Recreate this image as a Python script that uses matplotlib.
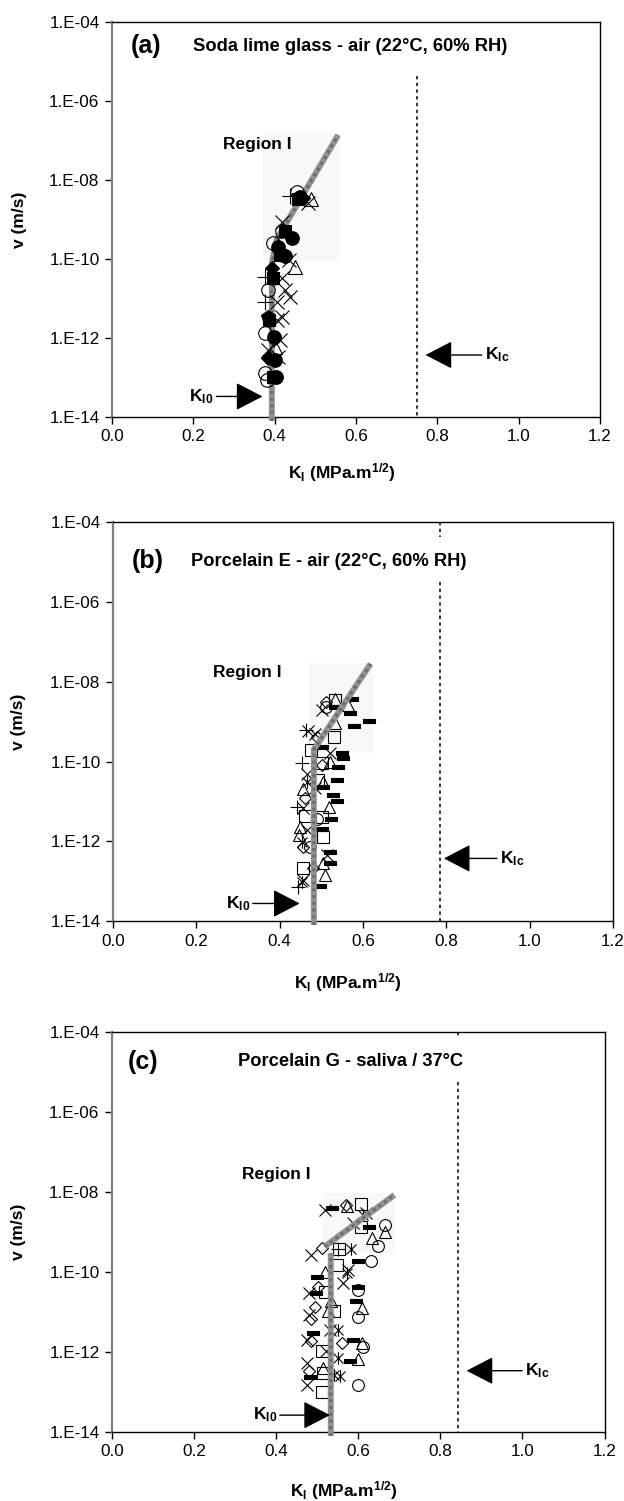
import numpy as np
import matplotlib
matplotlib.use("Agg")
import matplotlib.pyplot as plt
from matplotlib.path import Path
from matplotlib.patches import Rectangle
from matplotlib.ticker import FixedLocator, NullLocator

plt.rcParams['font.family'] = ['Liberation Sans', 'DejaVu Sans']
plt.rcParams['mathtext.fontset'] = 'custom'
plt.rcParams['mathtext.rm'] = 'Liberation Sans'
plt.rcParams['mathtext.bf'] = 'Liberation Sans:bold'
plt.rcParams['mathtext.it'] = 'Liberation Sans:italic'

# ---- axes ----
x_ticks = [0.0, 0.2, 0.4, 0.6, 0.8, 1.0, 1.2]
x_ticklabels = ['0.0', '0.2', '0.4', '0.6', '0.8', '1.0', '1.2']
v_ticks = [1e-14, 1e-12, 1e-10, 1e-8, 1e-6, 1e-4]
v_ticklabels = ['1.E-14', '1.E-12', '1.E-10', '1.E-08', '1.E-06', '1.E-04']

panel_letters = ['(a)', '(b)', '(c)']
panel_titles = ['Soda lime glass - air (22°C, 60% RH)',
                'Porcelain E - air (22°C, 60% RH)',
                'Porcelain G - saliva / 37°C']

# toughness values (MPa.m^1/2)
K_Ic = [0.75, 0.785, 0.843]
K_I0 = [0.393, 0.482, 0.533]

# ---- crack velocity data: K_I, log10(v), specimen/symbol id ----
a_K = [0.462, 0.454, 0.470, 0.483, 0.490, 0.438, 0.458,
       0.417, 0.417, 0.425, 0.442, 0.397, 0.409, 0.413, 0.425, 0.450, 0.434,
       0.393, 0.395, 0.376, 0.417, 0.384, 0.425, 0.438, 0.376, 0.405, 0.417,
       0.384, 0.387, 0.405, 0.376, 0.398, 0.413, 0.401, 0.384, 0.384, 0.401,
       0.409, 0.376, 0.396, 0.404, 0.380]
a_logv = [-8.42, -8.29, -8.45, -8.59, -8.47, -8.39, -8.48,
          -9.30, -9.05, -9.30, -9.47, -9.60, -9.69, -9.90, -9.92, -10.19, -10.02,
          -10.23, -10.49, -10.45, -10.49, -10.78, -10.78, -10.95, -11.08, -11.09, -11.46,
          -11.46, -11.55, -11.54, -11.88, -11.97, -12.05, -12.22, -12.30, -12.51, -12.56,
          -12.47, -12.89, -12.98, -12.98, -13.06]
a_id = [5, 1, 7, 3, 2, 4, 6,
        1, 3, 6, 5, 1, 5, 6, 5, 2, 3,
        7, 6, 4, 3, 1, 3, 3, 4, 3, 3,
        8, 6, 3, 1, 5, 3, 2, 3, 7, 5,
        3, 1, 6, 5, 1]

b_K = [0.573, 0.533, 0.511, 0.533, 0.501, 0.512, 0.565, 0.569, 0.533, 0.615,
       0.579, 0.533, 0.469, 0.462, 0.531, 0.489, 0.485, 0.501, 0.475, 0.549,
       0.553, 0.521, 0.521, 0.501, 0.453, 0.501, 0.541, 0.465, 0.537, 0.465,
       0.455, 0.505, 0.493, 0.505, 0.485, 0.529, 0.537, 0.519, 0.461, 0.441,
       0.457, 0.461, 0.489, 0.523, 0.501, 0.447, 0.465, 0.505, 0.501, 0.449,
       0.457, 0.453, 0.473, 0.521, 0.513, 0.521, 0.505, 0.457, 0.481, 0.509,
       0.457, 0.453, 0.445, 0.497]
b_logv = [-8.44, -8.46, -8.50, -8.44, -8.71, -8.63, -8.58, -8.79, -8.63, -8.98,
          -9.11, -9.04, -9.23, -9.21, -9.38, -9.38, -9.30, -9.63, -9.71, -9.78,
          -9.92, -9.79, -10.00, -10.04, -10.04, -10.08, -10.14, -10.30, -10.46, -10.51,
          -10.70, -10.51, -10.46, -10.65, -10.67, -10.84, -10.99, -11.13, -10.92, -11.13,
          -11.17, -11.37, -11.43, -11.43, -11.38, -11.84, -11.72, -11.89, -11.70, -11.64,
          -12.14, -12.01, -12.14, -12.28, -12.34, -12.54, -12.55, -12.68, -12.68, -12.85,
          -12.97, -13.01, -13.14, -13.12]
b_id = [12, 9, 10, 2, 3, 1, 2, 12, 12, 12,
        12, 2, 3, 4, 9, 10, 3, 12, 9, 12,
        12, 3, 2, 9, 4, 10, 12, 3, 12, 11,
        2, 2, 9, 12, 3, 12, 12, 2, 10, 4,
        3, 9, 1, 12, 9, 2, 3, 9, 12, 2,
        10, 11, 1, 12, 3, 12, 2, 9, 10, 2,
        3, 11, 4, 12]

c_K = [0.518, 0.537, 0.571, 0.573, 0.607, 0.620, 0.612, 0.586, 0.607, 0.625,
       0.666, 0.664, 0.634, 0.647, 0.511, 0.484, 0.552, 0.550, 0.583, 0.630,
       0.600, 0.547, 0.520, 0.576, 0.573, 0.499, 0.502, 0.562, 0.600, 0.600,
       0.479, 0.497, 0.518, 0.533, 0.595, 0.610, 0.494, 0.479, 0.486, 0.542,
       0.600, 0.526, 0.550, 0.531, 0.489, 0.474, 0.484, 0.586, 0.608, 0.612,
       0.560, 0.511, 0.521, 0.550, 0.581, 0.600, 0.474, 0.480, 0.483, 0.513,
       0.515, 0.542, 0.556, 0.474, 0.599, 0.511]
c_logv = [-8.45, -8.41, -8.33, -8.36, -8.30, -8.54, -8.58, -8.79, -8.87, -8.89,
          -8.83, -9.01, -9.16, -9.35, -9.41, -9.58, -9.44, -9.44, -9.44, -9.73,
          -9.73, -9.83, -10.00, -9.95, -10.04, -10.14, -10.37, -10.29, -10.37, -10.45,
          -10.52, -10.52, -10.50, -10.74, -10.74, -10.91, -10.87, -11.08, -11.19, -10.99,
          -11.12, -10.99, -11.45, -11.45, -11.52, -11.70, -11.74, -11.70, -11.79, -11.89,
          -11.79, -11.97, -11.97, -12.16, -12.22, -12.19, -12.27, -12.47, -12.63, -12.53,
          -12.40, -12.58, -12.60, -12.83, -12.83, -13.00]
c_id = [3, 12, 10, 2, 9, 3, 11, 3, 9, 12,
        1, 2, 2, 1, 10, 3, 9, 4, 11, 1,
        12, 9, 2, 3, 11, 12, 10, 3, 12, 1,
        3, 12, 9, 2, 12, 2, 10, 3, 10, 9,
        1, 2, 11, 3, 12, 3, 10, 12, 2, 1,
        10, 9, 3, 11, 12, 2, 3, 10, 12, 9,
        2, 11, 11, 3, 1, 9]

# ---- fitted bands (K_I, log10 v) ----
a_band_K = [0.393, 0.393, 0.405, 0.556]
a_band_logv = [-14.1, -10.1, -9.5, -6.86]
b_band_K = [0.482, 0.482, 0.618]
b_band_logv = [-14.1, -9.7, -7.55]
c_band_K = [0.533, 0.533, np.nan, 0.518, 0.688]
c_band_logv = [-14.1, -9.54, np.nan, -9.37, -8.08]

# ---- layout (figure fractions, text placements in data units) ----
axes_rects = [[0.1795, 0.7222, 0.7821, 0.2630],
              [0.1811, 0.3864, 0.8013, 0.2656],
              [0.1795, 0.0460, 0.7893, 0.2667]]
letter_x = [0.047, 0.045, 0.038]
title_x = [0.200, 0.188, 0.307]
title_logv = [-4.61, -4.97, -4.75]
region_pos = [(0.272, -7.10), (0.241, -7.77), (0.316, -7.58)]
region_box = [(0.370, 0.561, -10.06, -6.81), (0.470, 0.623, -9.79, -7.54),
              (0.514, 0.690, -9.53, -8.03)]
dash_segments = [[(-5.37, -14.0)], [(-4.0, -4.36), (-5.49, -14.0)],
                 [(-4.0, -4.12), (-5.25, -14.0)]]
kic_arrow = [(0.771, 0.916, -12.43), (0.794, 0.928, -12.43), (0.864, 1.006, -12.47)]
ki0_arrow = [(0.370, 0.250, -13.48), (0.448, 0.329, -13.56), (0.531, 0.402, -13.58)]
xlabel_y = [-0.112, -0.125, -0.117]
marker_scale = [1.15, 1.0, 1.0]

# symbol shapes
dash_marker = [(-1.5, -0.5), (1.5, -0.5), (1.5, 0.5), (-1.5, 0.5), (-1.5, -0.5)]
ast_marker = Path([(0, -1), (0, 1), (-0.8, -0.8), (0.8, 0.8), (-0.8, 0.8), (0.8, -0.8)],
                  [Path.MOVETO, Path.LINETO, Path.MOVETO, Path.LINETO, Path.MOVETO, Path.LINETO])
symbols = {
    1: dict(marker='o', ms=8.5, mfc='none'),
    2: dict(marker='^', ms=8.5, mfc='none'),
    3: dict(marker='x', ms=8.5, mfc='none'),
    4: dict(marker='+', ms=9.5, mfc='none'),
    5: dict(marker='o', ms=8.5, mfc='black'),
    6: dict(marker='s', ms=7.5, mfc='black'),
    7: dict(marker='D', ms=6.5, mfc='black'),
    8: dict(marker='p', ms=9, mfc='black'),
    9: dict(marker='s', ms=8, mfc='none'),
    10: dict(marker='D', ms=6, mfc='none'),
    11: dict(marker=ast_marker, ms=9, mfc='none'),
    12: dict(marker=dash_marker, ms=9, mfc='black'),
}

data = [(a_K, a_logv, a_id, a_band_K, a_band_logv),
        (b_K, b_logv, b_id, b_band_K, b_band_logv),
        (c_K, c_logv, c_id, c_band_K, c_band_logv)]

fig = plt.figure(figsize=(6.24, 15.01), dpi=100)

for i, (K, logv, ids, bK, blogv) in enumerate(data):
    ax = fig.add_axes(axes_rects[i])
    ax.set_yscale('log')
    ax.set_xlim(0, 1.2)
    ax.set_ylim(1e-14, 1e-4)

    # very faint shaded patch behind Region I
    x0, x1, l0, l1 = region_box[i]
    ax.add_patch(Rectangle((x0, 10 ** l0), x1 - x0, 10 ** l1 - 10 ** l0,
                           facecolor='#f8f8f8', edgecolor='none', zorder=0.5))

    K = np.array(K)
    v = 10 ** np.array(logv)
    ids = np.array(ids)
    mz = 4 if i == 0 else 2
    for sid in sorted(set(ids)):
        m = ids == sid
        st = symbols[sid]
        ax.plot(K[m], v[m], ls='none', marker=st['marker'], ms=st['ms'] * marker_scale[i],
                mfc=st['mfc'], mec='black', mew=0.8, zorder=mz)

    # fitted band
    bv = 10 ** np.array(blogv)
    ax.plot(bK, bv, color='#929292', lw=4.3, solid_capstyle='butt', zorder=3, clip_on=False)
    ax.plot(bK, bv, color='#6c6c6c', lw=2.2, ls=(0, (1, 1.2)), zorder=3, clip_on=False)

    # K_Ic dashed line
    for top, bot in dash_segments[i]:
        ax.plot([K_Ic[i], K_Ic[i]], [10 ** top, 10 ** bot], color='black',
                lw=1.1, ls=(0, (2.2, 2.2)), zorder=2)

    # arrows
    tip, tx, lv = kic_arrow[i]
    ax.annotate(r'$\mathbf{K_{Ic}}$', xy=(tip, 10 ** lv), xytext=(tx, 10 ** lv),
                ha='left', va='center', fontsize=12.5,
                arrowprops=dict(arrowstyle='-|>,head_length=1.35,head_width=0.7',
                                color='black', lw=1.0, shrinkA=0, shrinkB=0))
    tip, tx, lv = ki0_arrow[i]
    ax.annotate(r'$\mathbf{K_{I0}}$', xy=(tip, 10 ** lv), xytext=(tx, 10 ** lv),
                ha='right', va='center', fontsize=12.5,
                arrowprops=dict(arrowstyle='-|>,head_length=1.35,head_width=0.7',
                                color='black', lw=1.0, shrinkA=0, shrinkB=0))

    # texts
    ax.text(letter_x[i], 10 ** title_logv[i], panel_letters[i], fontsize=18,
            fontweight='bold', ha='left', va='center')
    ax.text(title_x[i], 10 ** title_logv[i], panel_titles[i], fontsize=13.2,
            fontweight='bold', ha='left', va='center')
    rx, rl = region_pos[i]
    ax.text(rx, 10 ** rl, 'Region I', fontsize=12.5, fontweight='bold',
            ha='left', va='center')

    # ticks and spines
    ax.xaxis.set_major_locator(FixedLocator(x_ticks))
    ax.set_xticklabels(x_ticklabels)
    ax.yaxis.set_major_locator(FixedLocator(v_ticks))
    ax.set_yticklabels(v_ticklabels)
    ax.yaxis.set_minor_locator(NullLocator())
    ax.tick_params(axis='both', direction='out', length=5, width=1, labelsize=12.3,
                   pad=4, top=False, right=False)
    for side in ['top', 'right', 'bottom']:
        ax.spines[side].set_linewidth(1.0)
        ax.spines[side].set_color('black')
    ax.spines['left'].set_linewidth(1.6)
    ax.spines['left'].set_color('#808080')

    ax.set_ylabel('v (m/s)', fontsize=12.5, fontweight='bold')
    ax.yaxis.set_label_coords(-0.175, 0.5)
    ax.set_xlabel(r'K$_\mathbf{I}$ (MPa.m$^{\mathbf{1/2}}$)', fontsize=12.5, fontweight='bold')
    ax.xaxis.set_label_coords(0.47, xlabel_y[i])

fig.savefig('out.png', dpi=100)
